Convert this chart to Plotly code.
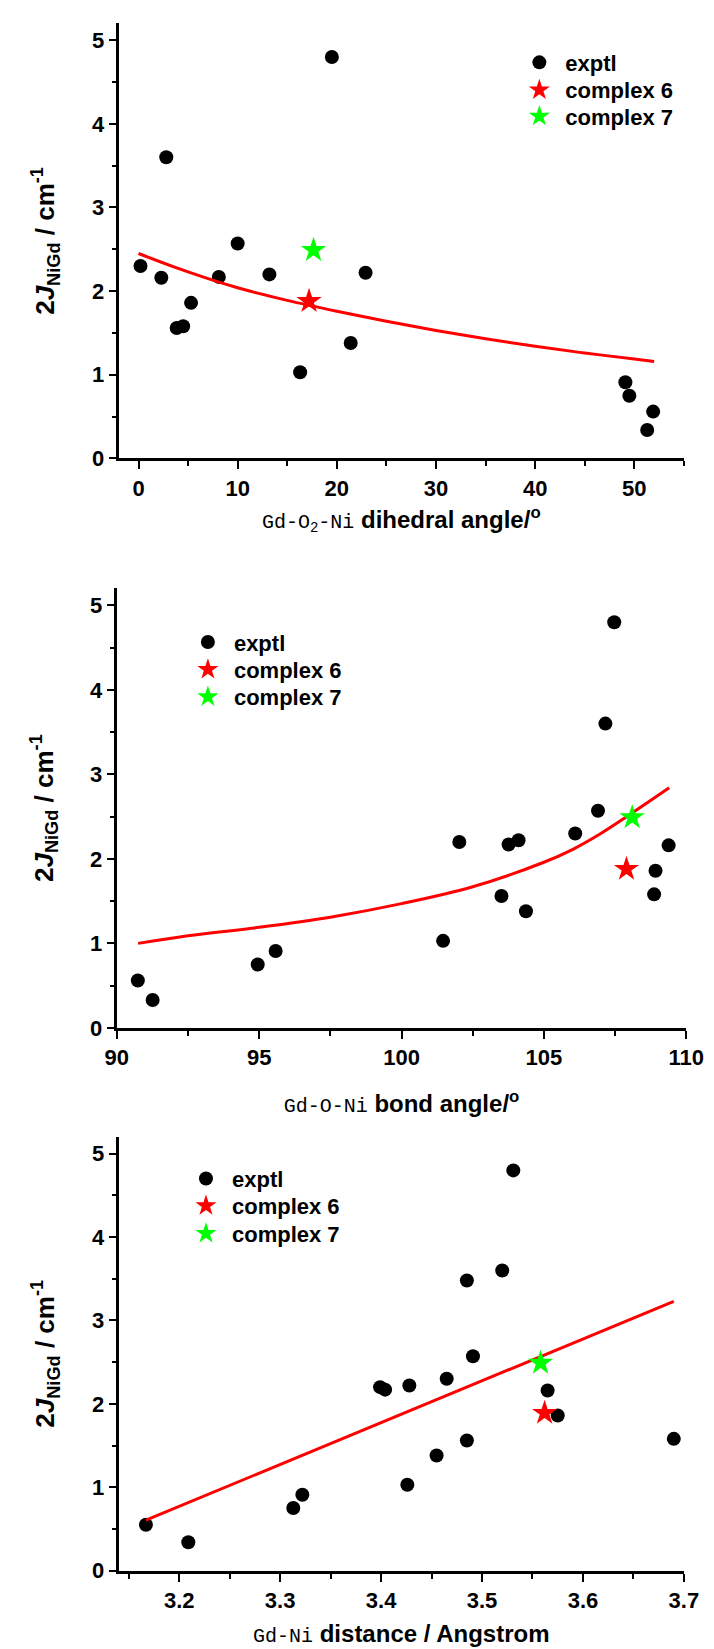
import plotly.graph_objects as go

# panel 1: dihedral angle
dih_x = [0.2, 2.3, 2.8, 3.85, 4.5, 5.3, 8.1, 10.0, 13.2, 16.3, 19.5, 21.4, 22.9, 49.1, 49.5, 51.3, 51.9]
dih_y = [2.30, 2.16, 3.60, 1.56, 1.58, 1.86, 2.17, 2.57, 2.20, 1.03, 4.80, 1.38, 2.22, 0.91, 0.75, 0.34, 0.56]
dih_c6 = (17.2, 1.88)
dih_c7 = (17.65, 2.49)
dih_fit_x = [0, 5, 10, 15, 20, 25, 30, 35, 40, 45, 50, 52]
dih_fit_y = [2.45, 2.23, 2.04, 1.89, 1.76, 1.64, 1.53, 1.43, 1.34, 1.26, 1.19, 1.16]

# panel 2: bond angle
ang_x = [90.74, 91.26, 94.95, 95.58, 101.46, 102.03, 103.51, 103.76, 104.11, 104.37,
         106.1, 106.9, 107.16, 107.47, 108.87, 108.92, 109.38]
ang_y = [0.56, 0.33, 0.75, 0.91, 1.03, 2.20, 1.56, 2.17, 2.22, 1.38,
         2.30, 2.57, 3.60, 4.80, 1.58, 1.86, 2.16]
ang_c6 = (107.9, 1.88)
ang_c7 = (108.1, 2.49)
ang_fit_x = [90.75, 92.5, 95, 97.5, 100, 102.5, 105, 106, 107, 108, 109.4]
ang_fit_y = [1.00, 1.09, 1.19, 1.31, 1.47, 1.67, 1.96, 2.11, 2.30, 2.52, 2.84]

# panel 3: Gd-Ni distance
dis_x = [3.167, 3.209, 3.313, 3.322, 3.399, 3.404, 3.426, 3.428, 3.455, 3.465,
         3.485, 3.485, 3.491, 3.520, 3.531, 3.565, 3.575, 3.690]
dis_y = [0.55, 0.34, 0.75, 0.91, 2.20, 2.17, 1.03, 2.22, 1.38, 2.30,
         1.56, 3.48, 2.57, 3.60, 4.80, 2.16, 1.86, 1.58]
dis_c6 = (3.562, 1.89)
dis_c7 = (3.558, 2.49)
dis_fit_x = [3.167, 3.69]
dis_fit_y = [0.605, 3.23]

W, H = 714, 1649
FONT = "Liberation Sans, Arial, sans-serif"
MONO = "Liberation Mono, Courier New, monospace"
mono = "<span style='font-family:%s;font-weight:normal;font-size:20px'>%s</span>"

panels = [
    dict(x=dih_x, y=dih_y, c6=dih_c6, c7=dih_c7, fx=dih_fit_x, fy=dih_fit_y,
         xr=[-2, 55], dtick=10, minor=5, tick0=0,
         xdom=[103, 693], ydom=[15.6, 454], standoff=12,
         title=mono % (MONO, "Gd-O<sub>2</sub>-Ni") + " dihedral angle/<sup>o</sup>",
         leg_x=515, leg_y=[55, 82.7, 109.3]),
    dict(x=ang_x, y=ang_y, c6=ang_c6, c7=ang_c7, fx=ang_fit_x, fy=ang_fit_y,
         xr=[90, 110], dtick=5, minor=2.5, tick0=90,
         xdom=[101, 695.5], ydom=[585, 1028], standoff=26,
         title=mono % (MONO, "Gd-O-Ni") + " bond angle/<sup>o</sup>",
         leg_x=169, leg_y=[639.3, 667, 694.5]),
    dict(x=dis_x, y=dis_y, c6=dis_c6, c7=dis_c7, fx=dis_fit_x, fy=dis_fit_y,
         xr=[3.14, 3.70], dtick=0.1, minor=0.05, tick0=3.2,
         xdom=[103, 693], ydom=[1138, 1575], standoff=14,
         title=mono % (MONO, "Gd-Ni") + " distance / Angstrom",
         leg_x=167, leg_y=[1180, 1207.5, 1235.4]),
]

fig = go.Figure()
layout = {}
k = 0
for i, p in enumerate(panels):
    n = "" if i == 0 else str(i + 1)
    xa, ya = "x" + n, "y" + n
    legs = []
    for j in range(3):
        k += 1
        name = "legend" if k == 1 else "legend%d" % k
        legs.append(name)
        layout[name] = dict(x=p["leg_x"] / W, y=1 - p["leg_y"][j] / H,
                            xanchor="left", yanchor="middle",
                            bgcolor="rgba(0,0,0,0)", itemwidth=42,
                            font=dict(family=FONT, size=22, color="black", weight="bold"))

    fig.add_trace(go.Scatter(x=p["x"], y=p["y"], mode="markers", name="exptl",
                             xaxis=xa, yaxis=ya, legend=legs[0],
                             marker=dict(color="black", size=14, symbol="circle")))
    fig.add_trace(go.Scatter(x=p["fx"], y=p["fy"], mode="lines", showlegend=False,
                             xaxis=xa, yaxis=ya,
                             line=dict(color="#ff0000", width=3, shape="spline", smoothing=1)))
    fig.add_trace(go.Scatter(x=[p["c6"][0]], y=[p["c6"][1]], mode="markers", name="complex 6",
                             xaxis=xa, yaxis=ya, legend=legs[1],
                             marker=dict(color="#ff0000", size=19, symbol="star")))
    fig.add_trace(go.Scatter(x=[p["c7"][0]], y=[p["c7"][1]], mode="markers", name="complex 7",
                             xaxis=xa, yaxis=ya, legend=legs[2],
                             marker=dict(color="#00ff00", size=19, symbol="star")))

    axis_common = dict(showline=True, linecolor="black", linewidth=3, ticks="outside",
                       tickcolor="black", tickwidth=2, showgrid=False, zeroline=False,
                       tickfont=dict(family=FONT, size=22, color="black", weight="bold"))
    layout["xaxis" + n] = dict(axis_common, anchor=ya, range=p["xr"], tick0=p["tick0"],
                               dtick=p["dtick"], ticklen=8,
                               minor=dict(dtick=p["minor"], ticks="outside", ticklen=5,
                                          tickwidth=2, tickcolor="black"),
                               domain=[p["xdom"][0] / W, p["xdom"][1] / W],
                               title=dict(text=p["title"], standoff=p["standoff"],
                                          font=dict(family=FONT, size=24, color="black",
                                                    weight="bold")))
    layout["yaxis" + n] = dict(axis_common, anchor=xa, range=[0, 5.2], dtick=1, ticklen=7,
                               minor=dict(dtick=0.5, ticks="outside", ticklen=4,
                                          tickwidth=2, tickcolor="black"),
                               domain=[1 - p["ydom"][1] / H, 1 - p["ydom"][0] / H],
                               title=dict(text="2<i>J</i><sub>NiGd</sub> / cm<sup>-1</sup>",
                                          standoff=30,
                                          font=dict(family=FONT, size=26, color="black",
                                                    weight="bold")))

fig.update_layout(**layout)
fig.update_layout(width=W, height=H, margin=dict(l=0, r=0, t=0, b=0),
                  plot_bgcolor="white", paper_bgcolor="white")

fig.write_html("out.html")
